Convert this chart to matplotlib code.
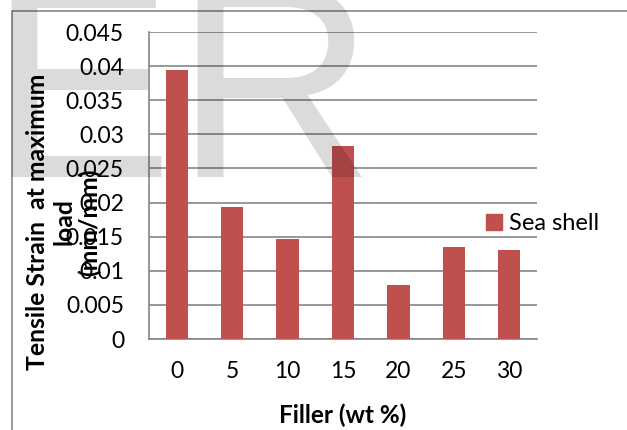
import matplotlib
matplotlib.use('Agg')
import matplotlib.pyplot as plt
from matplotlib.lines import Line2D
from matplotlib.patches import Patch

# --- dados ---
filler = ['0', '5', '10', '15', '20', '25', '30']
sea_shell = [0.0394, 0.01935, 0.01466, 0.0283, 0.0079, 0.01354, 0.0130]
y_ticks = [0, 0.005, 0.01, 0.015, 0.02, 0.025, 0.03, 0.035, 0.04, 0.045]
y_tick_labels = ['0', '0.005', '0.01', '0.015', '0.02', '0.025', '0.03', '0.035', '0.04', '0.045']

W, H = 627, 430
plt.rcParams['font.family'] = ['Lato', 'DejaVu Sans']
grid_col = '#868686'
bar_col = '#c0504d'

fig = plt.figure(figsize=(W / 100, H / 100), dpi=100)
ax = fig.add_axes([149 / W, 1 - 339 / H, 388 / W, 307 / H])

x = range(len(filler))
ax.bar(x, sea_shell, width=0.4, color=bar_col, zorder=3)

ax.set_xlim(-0.5, len(filler) - 0.5)
ax.set_ylim(0, 0.045)
ax.set_xticks(list(x))
ax.set_xticklabels(filler)
ax.set_yticks(y_ticks)
ax.set_yticklabels(y_tick_labels)
ax.tick_params(axis='y', length=0, pad=18, labelsize=16.5)
ax.tick_params(axis='x', length=0, pad=16, labelsize=16.5)

ax.yaxis.grid(True, color=grid_col, linewidth=1.2, zorder=1)
ax.set_axisbelow(True)
for side in ['top', 'right']:
    ax.spines[side].set_visible(False)
for side in ['left', 'bottom']:
    ax.spines[side].set_color(grid_col)
    ax.spines[side].set_linewidth(1.2)

# rótulos dos eixos
fig.text((149 + 537) / 2 / W, 1 - 415 / H, 'Filler (wt %)', ha='center', va='center',
         fontsize=17.5, fontweight='bold')
fig.text(64 / W, 1 - 222 / H, 'Tensile Strain  at maximum\nload\n(mm/mm)', rotation=90,
         ha='center', va='center', multialignment='center', fontsize=17.8,
         fontweight='bold', linespacing=1.15)

# legenda
fig.legend(handles=[Patch(color=bar_col, label='Sea shell')], loc='center left',
           bbox_to_anchor=(486 / W, 1 - 224 / H), frameon=False, fontsize=17,
           borderpad=0, borderaxespad=0, handlelength=0.68, handleheight=0.68,
           handletextpad=0.3)

# moldura externa
fig.add_artist(Line2D([12 / W, 12 / W, 1], [0, 1 - 11 / H, 1 - 11 / H],
                      color=grid_col, linewidth=1.2))

# marca d'água
fig.text(-12 / W, 1 - 177 / H, 'E', fontsize=199, family='Liberation Sans',
         color='black', alpha=0.14, ha='left', va='baseline', zorder=10)
fig.text(174 / W, 1 - 177 / H, 'R', fontsize=199, family='Liberation Sans',
         color='black', alpha=0.14, ha='left', va='baseline', zorder=10)

fig.savefig('out.png', dpi=100)
